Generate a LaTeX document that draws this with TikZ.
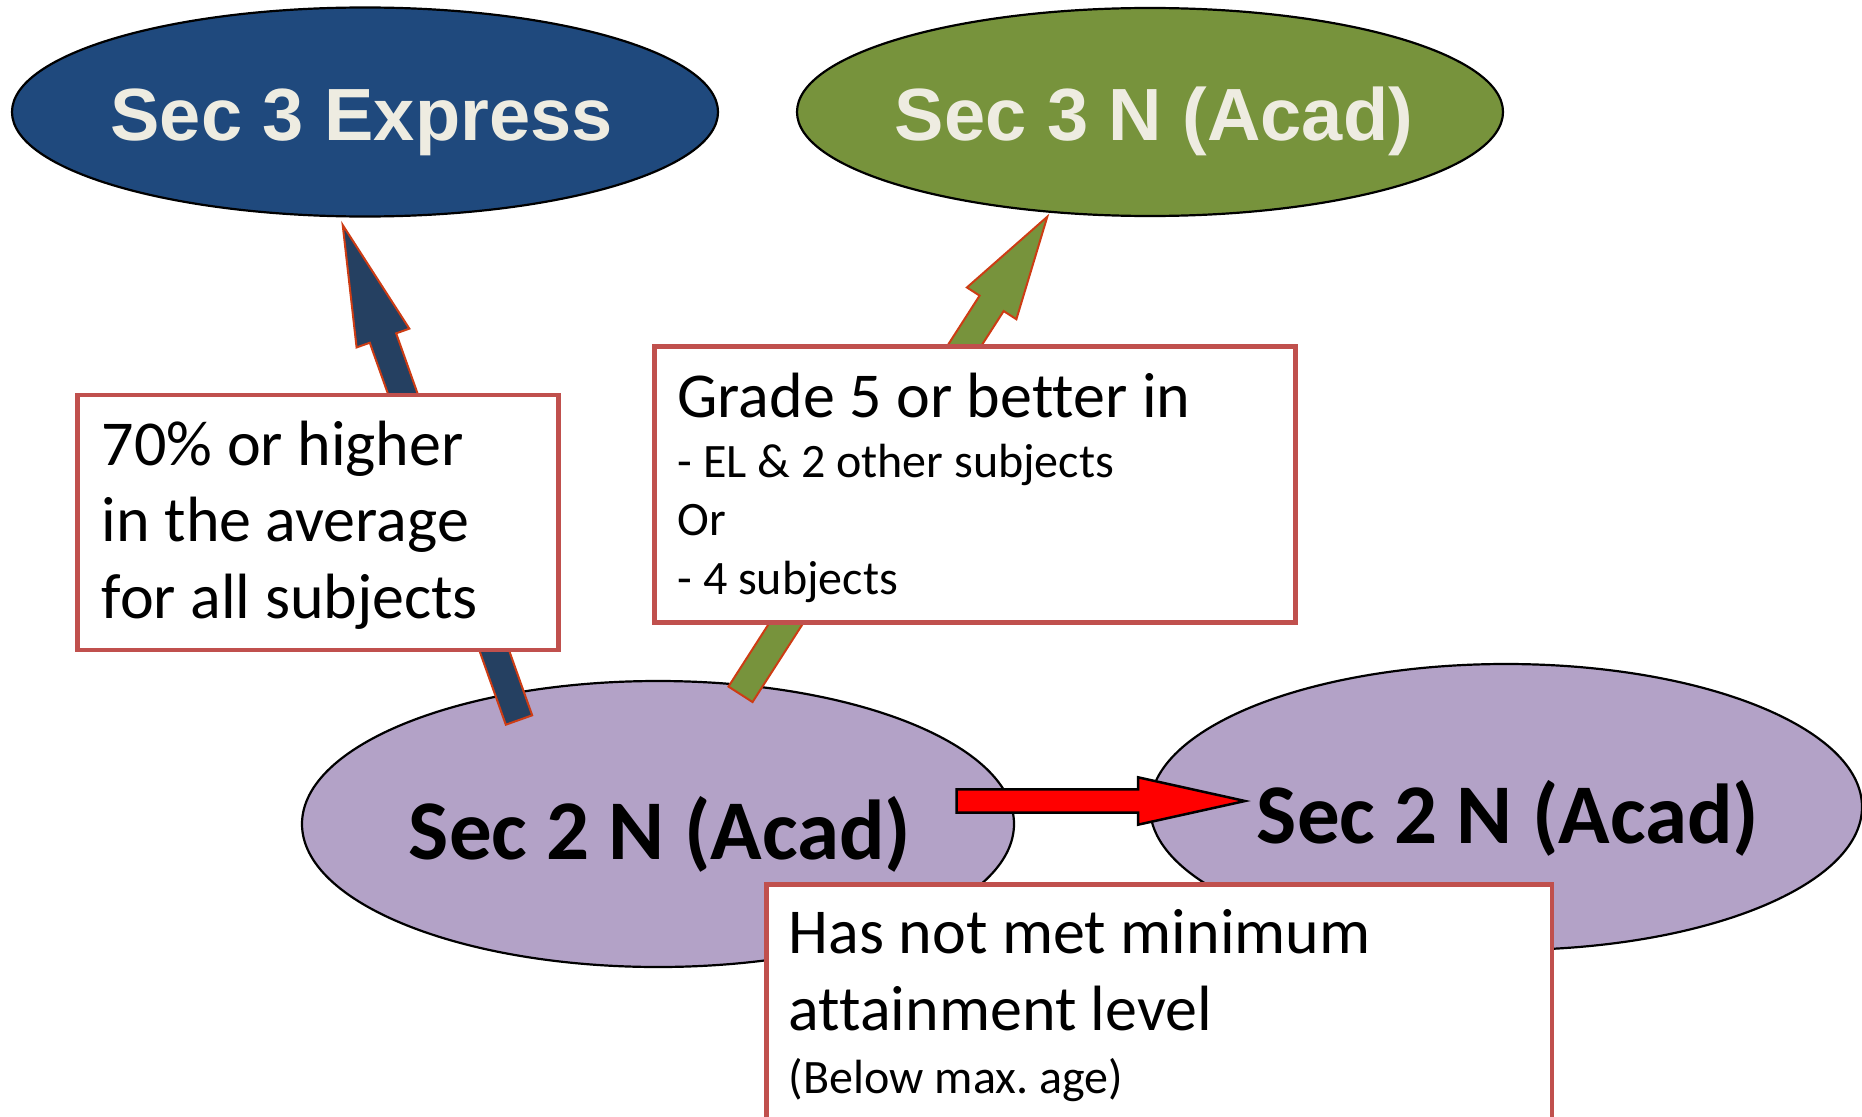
\documentclass[tikz,border=0pt]{standalone}
\usepackage{fontspec}
\setmainfont{Carlito}[Ligatures=NoCommon]
\newfontfamily\headfont{Liberation Sans}
\usetikzlibrary{shapes.geometric,calc}
\definecolor{secblue}{RGB}{31,73,125}
\definecolor{secgreen}{RGB}{119,147,60}
\definecolor{secpurple}{RGB}{179,162,199}
\definecolor{arrblue}{RGB}{37,64,97}
\definecolor{arrline}{RGB}{205,60,20}
\definecolor{boxred}{RGB}{192,80,77}
\definecolor{cream}{RGB}{238,236,225}
\frenchspacing
\newcommand\mkblockarrow[6]{%
  \path ($(#3)!#6!(#2)$) coordinate (baH);
  \draw[#1] ($(#2)!#4!90:(#3)$) -- ($(baH)!#4!90:(#3)$) -- ($(baH)!#5!90:(#3)$)
    -- (#3) -- ($(baH)!#5!-90:(#3)$) -- ($(baH)!#4!-90:(#3)$) -- ($(#2)!#4!-90:(#3)$) -- cycle;
}
\begin{document}
\begin{tikzpicture}[x=1pt,y=-1pt,
  ell/.style={ellipse, draw=black, line width=2.2pt, inner sep=0pt},
  headtxt/.style={anchor=base, inner sep=0pt, text=cream, font=\headfont\bfseries\fontsize{74}{89}\selectfont},
  lowtxt/.style={anchor=base, inner sep=0pt, text=black, font=\bfseries\fontsize{85}{102}\selectfont},
  boxst/.style={rectangle, draw=boxred, fill=white, line width=4.5pt, inner sep=0pt, anchor=north west},
  bigline/.style={anchor=base west, inner sep=0pt, font=\fontsize{64}{77}\selectfont},
  smallline/.style={anchor=base west, inner sep=0pt, font=\fontsize{48}{58}\selectfont},
  bluearr/.style={fill=arrblue, draw=arrline, line width=2pt, line join=miter},
  greenarr/.style={fill=secgreen, draw=arrline, line width=2pt, line join=miter},
  redarr/.style={fill=red, draw=black, line width=2.5pt, line join=miter}
]
\useasboundingbox (0,0) rectangle (1862,1116);

% ellipses
\node[ell, fill=secblue, minimum width=706pt, minimum height=209pt] (s3e) at (365,112) {};
\node[headtxt] (s3et) at (361.6,140) {Sec 3 Express};
\node[ell, fill=secgreen, minimum width=706pt, minimum height=208pt] (s3n) at (1150,112) {};
\node[headtxt] (s3nt) at (1154,140) {Sec 3 N (Acad)};
\node[ell, fill=secpurple, minimum width=712pt, minimum height=286pt] (s2a) at (658,824) {};
\node[lowtxt] (s2at) at (660,859) {Sec 2 N (Acad)};
\node[ell, fill=secpurple, minimum width=712pt, minimum height=286pt] (s2b) at (1506,807) {};
\node[lowtxt] (s2bt) at (1508,843) {Sec 2 N (Acad)};

% block arrows
\coordinate (btail) at (519,720);
\coordinate (btip) at (342.7,225);
\mkblockarrow{bluearr}{btail}{btip}{14pt}{28pt}{120pt}
\coordinate (gtail) at (740.5,694.3);
\coordinate (gtip) at (1047.3,216.7);
\mkblockarrow{greenarr}{gtail}{gtip}{14.3pt}{29.4pt}{103pt}
\coordinate (rtail) at (956.7,801);
\coordinate (rtip) at (1245,801);
\mkblockarrow{redarr}{rtail}{rtip}{11.7pt}{23.7pt}{107pt}

% box 1
\node[boxst, minimum width=481pt, minimum height=255pt] (box1) at (75,392.7) {};
\node[bigline] (b1a) at (101.7,465) {70\% or higher};
\node[bigline] (b1b) at (101.7,541.7) {in the average};
\node[bigline] (b1c) at (101.7,618.3) {for all subjects};

% box 2
\node[boxst, minimum width=641pt, minimum height=275.7pt] (box2) at (652,344.3) {};
\node[bigline] (b2a) at (677.3,417.3) {Grade 5 or better in};
\node[smallline] (b2b) at (677.3,477.3) {- EL \& 2 other subjects};
\node[smallline] (b2c) at (677.3,535) {Or};
\node[smallline] (b2d) at (677.3,594) {- 4 subjects};

% box 3
\node[boxst, minimum width=785.5pt, minimum height=236pt] (box3) at (764,882.3) {};
\node[bigline] (b3a) at (788.7,953) {Has not met minimum};
\node[bigline] (b3b) at (788.7,1030) {attainment level};
\node[smallline] (b3c) at (788.7,1093) {(Below max. age)};
\end{tikzpicture}
\end{document}
